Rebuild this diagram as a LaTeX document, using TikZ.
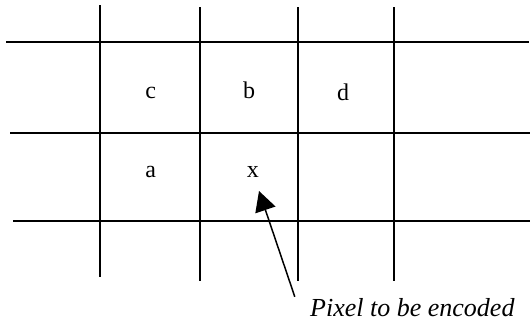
\documentclass[tikz,border=0pt]{standalone}
\usepackage{fontspec}
\setmainfont{Liberation Serif}
\usetikzlibrary{arrows.meta}
\begin{document}
\begin{tikzpicture}[x=1pt,y=-1pt,
  gridline/.style={line width=1.6pt,black},
  cell/.style={inner sep=0pt,anchor=base,font=\fontsize{24}{28}\selectfont},
  caption/.style={inner sep=0pt,anchor=base west,font=\fontsize{26}{30}\selectfont\itshape},
  pointer/.style={line width=1.5pt,-{Triangle[length=20pt,width=21pt]}}]
\useasboundingbox (0,0) rectangle (530,324);
% vertical lines
\draw[gridline] (100,5) -- (100,277);
\draw[gridline] (200,7) -- (200,281);
\draw[gridline] (298,7) -- (298,281);
\draw[gridline] (394,7) -- (394,281);
% horizontal lines
\draw[gridline] (6,42) -- (529,42);
\draw[gridline] (10,133) -- (530,133);
\draw[gridline] (13,221) -- (530,221);
% labels
\node[cell] (c) at (150.8,98) {c};
\node[cell] (b) at (249,98.5) {b};
\node[cell] (d) at (343,100.5) {d};
\node[cell] (a) at (150.8,177.5) {a};
\node[cell] (x) at (252.9,177.5) {x};
\node[caption] (cap) at (310,316) {Pixel to be encoded};
\coordinate (tail) at (294.8,296.8);
\coordinate (tip) at (259,191);
\draw[pointer] (tail) -- (tip);
\end{tikzpicture}
\end{document}
